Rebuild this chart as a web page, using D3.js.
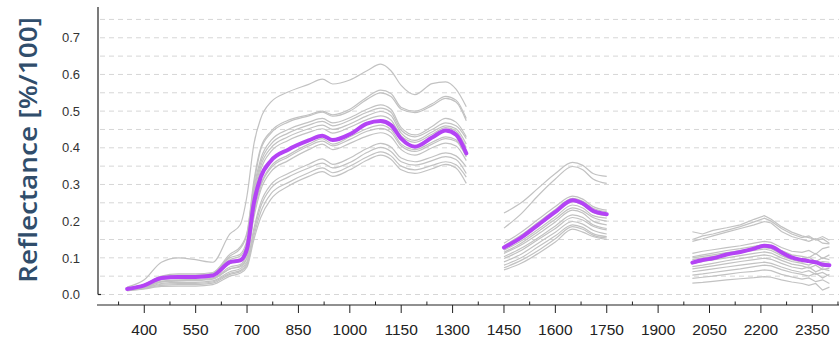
<!DOCTYPE html>
<html>
<head>
<meta charset="utf-8">
<script src="https://cdn.jsdelivr.net/npm/d3@7"></script>
<style>
  body { margin: 0; background: #fff; }
  svg { display: block; font-family: "Liberation Sans", Arial, sans-serif; }
</style>
</head>
<body>
<svg id="chart"></svg>
<script>
// wavelengths (nm) of the three measured ranges (water bands cut out)
const wl1 = [350, 400, 450, 500, 550, 600, 650, 680, 700, 720, 740, 770, 820, 880, 920, 950, 1000, 1050, 1090, 1120, 1150, 1190, 1240, 1280, 1310, 1340];
const wl2 = [1450, 1500, 1550, 1600, 1650, 1680, 1710, 1750];
const wl3 = [2000, 2030, 2060, 2100, 2140, 2180, 2210, 2230, 2260, 2290, 2320, 2340, 2360, 2380, 2400];

// mean spectrum (purple)
const mean1 = [0.015, 0.025, 0.045, 0.048, 0.048, 0.052, 0.088, 0.093, 0.125, 0.25, 0.32, 0.365, 0.395, 0.42, 0.433, 0.421, 0.437, 0.466, 0.473, 0.462, 0.425, 0.403, 0.428, 0.447, 0.436, 0.385];
const mean2 = [0.128, 0.155, 0.19, 0.225, 0.257, 0.248, 0.228, 0.219];
const mean3 = [0.087, 0.094, 0.099, 0.109, 0.116, 0.125, 0.133, 0.131, 0.115, 0.101, 0.094, 0.091, 0.088, 0.082, 0.08];

// single sample spectra (grey), one row per sample
const samples1 = [
  [0.02, 0.04, 0.088, 0.1, 0.095, 0.088, 0.165, 0.19, 0.27, 0.41, 0.48, 0.525, 0.552, 0.573, 0.587, 0.574, 0.585, 0.61, 0.628, 0.61, 0.57, 0.545, 0.575, 0.58, 0.56, 0.512],
  [0.018, 0.028, 0.05, 0.056, 0.056, 0.06, 0.11, 0.13, 0.17, 0.31, 0.4, 0.445, 0.475, 0.49, 0.5, 0.49, 0.505, 0.538, 0.557, 0.548, 0.51, 0.5, 0.52, 0.54, 0.53, 0.48],
  [0.017, 0.027, 0.048, 0.053, 0.053, 0.058, 0.105, 0.125, 0.165, 0.3, 0.395, 0.44, 0.47, 0.487, 0.497, 0.486, 0.5, 0.532, 0.55, 0.54, 0.505, 0.496, 0.515, 0.535, 0.525, 0.474],
  [0.016, 0.026, 0.047, 0.05, 0.05, 0.055, 0.1, 0.11, 0.15, 0.29, 0.37, 0.42, 0.45, 0.47, 0.48, 0.468, 0.482, 0.505, 0.517, 0.505, 0.455, 0.435, 0.458, 0.48, 0.47, 0.43],
  [0.015, 0.025, 0.046, 0.05, 0.05, 0.054, 0.095, 0.105, 0.14, 0.28, 0.36, 0.41, 0.44, 0.462, 0.472, 0.46, 0.475, 0.497, 0.508, 0.497, 0.448, 0.43, 0.45, 0.468, 0.46, 0.425],
  [0.014, 0.022, 0.04, 0.045, 0.046, 0.05, 0.085, 0.095, 0.13, 0.27, 0.35, 0.4, 0.43, 0.452, 0.462, 0.45, 0.465, 0.487, 0.499, 0.488, 0.44, 0.42, 0.443, 0.46, 0.452, 0.41],
  [0.015, 0.024, 0.044, 0.047, 0.047, 0.05, 0.085, 0.09, 0.12, 0.26, 0.34, 0.39, 0.42, 0.442, 0.452, 0.44, 0.456, 0.477, 0.487, 0.476, 0.432, 0.415, 0.437, 0.455, 0.446, 0.4],
  [0.013, 0.02, 0.036, 0.04, 0.041, 0.045, 0.075, 0.082, 0.11, 0.23, 0.3, 0.35, 0.38, 0.41, 0.425, 0.41, 0.43, 0.452, 0.462, 0.45, 0.41, 0.395, 0.415, 0.43, 0.422, 0.38],
  [0.013, 0.02, 0.035, 0.038, 0.039, 0.043, 0.07, 0.078, 0.1, 0.22, 0.295, 0.345, 0.375, 0.405, 0.418, 0.405, 0.423, 0.445, 0.453, 0.442, 0.405, 0.39, 0.41, 0.425, 0.418, 0.375],
  [0.012, 0.019, 0.034, 0.037, 0.038, 0.042, 0.07, 0.075, 0.1, 0.21, 0.285, 0.335, 0.365, 0.395, 0.41, 0.395, 0.412, 0.432, 0.441, 0.43, 0.395, 0.38, 0.4, 0.413, 0.405, 0.365],
  [0.012, 0.018, 0.03, 0.033, 0.033, 0.037, 0.062, 0.07, 0.09, 0.18, 0.25, 0.3, 0.33, 0.355, 0.37, 0.355, 0.372, 0.398, 0.412, 0.402, 0.372, 0.362, 0.375, 0.386, 0.378, 0.348],
  [0.011, 0.017, 0.028, 0.03, 0.03, 0.034, 0.058, 0.065, 0.085, 0.17, 0.24, 0.29, 0.32, 0.345, 0.358, 0.345, 0.36, 0.387, 0.401, 0.39, 0.362, 0.353, 0.365, 0.376, 0.368, 0.33],
  [0.011, 0.016, 0.025, 0.027, 0.027, 0.031, 0.055, 0.062, 0.08, 0.16, 0.225, 0.275, 0.305, 0.332, 0.345, 0.332, 0.35, 0.375, 0.389, 0.378, 0.35, 0.34, 0.352, 0.362, 0.354, 0.32],
  [0.01, 0.015, 0.022, 0.023, 0.023, 0.027, 0.05, 0.058, 0.075, 0.15, 0.21, 0.26, 0.295, 0.322, 0.335, 0.322, 0.34, 0.366, 0.38, 0.369, 0.34, 0.33, 0.343, 0.355, 0.345, 0.303]
];
const samples2 = [
  [0.222, 0.25, 0.29, 0.33, 0.36, 0.352, 0.33, 0.322],
  [0.181, 0.22, 0.27, 0.315, 0.349, 0.34, 0.315, 0.303],
  [0.14, 0.17, 0.205, 0.24, 0.268, 0.26, 0.24, 0.23],
  [0.133, 0.162, 0.197, 0.232, 0.262, 0.254, 0.235, 0.226],
  [0.125, 0.152, 0.187, 0.222, 0.253, 0.244, 0.224, 0.215],
  [0.121, 0.146, 0.178, 0.212, 0.244, 0.236, 0.215, 0.208],
  [0.115, 0.14, 0.172, 0.205, 0.236, 0.228, 0.21, 0.2],
  [0.112, 0.135, 0.165, 0.198, 0.23, 0.222, 0.2, 0.19],
  [0.103, 0.126, 0.155, 0.187, 0.217, 0.21, 0.19, 0.18],
  [0.098, 0.12, 0.15, 0.18, 0.21, 0.203, 0.186, 0.176],
  [0.089, 0.11, 0.14, 0.17, 0.199, 0.192, 0.175, 0.165],
  [0.08, 0.1, 0.13, 0.16, 0.19, 0.183, 0.166, 0.158],
  [0.073, 0.093, 0.12, 0.152, 0.185, 0.178, 0.162, 0.154],
  [0.067, 0.085, 0.112, 0.143, 0.178, 0.17, 0.158, 0.15]
];
const samples3 = [
  [0.171, 0.165, 0.175, 0.182, 0.19, 0.205, 0.215, 0.205, 0.185, 0.17, 0.16, 0.155, 0.15, 0.158, 0.148],
  [0.15, 0.16, 0.165, 0.175, 0.185, 0.198, 0.208, 0.2, 0.18, 0.165, 0.155, 0.16, 0.148, 0.152, 0.14],
  [0.145, 0.152, 0.16, 0.17, 0.18, 0.19, 0.199, 0.195, 0.172, 0.158, 0.15, 0.145, 0.152, 0.14, 0.138],
  [0.112, 0.118, 0.122, 0.128, 0.133, 0.14, 0.145, 0.142, 0.128, 0.118, 0.115, 0.12, 0.11, 0.125, 0.13],
  [0.103, 0.108, 0.113, 0.12, 0.125, 0.131, 0.136, 0.133, 0.12, 0.108, 0.104, 0.1, 0.112, 0.098, 0.108],
  [0.1, 0.104, 0.108, 0.114, 0.12, 0.126, 0.128, 0.125, 0.11, 0.1, 0.095, 0.102, 0.09, 0.1, 0.095],
  [0.095, 0.1, 0.104, 0.11, 0.115, 0.12, 0.124, 0.12, 0.106, 0.095, 0.088, 0.092, 0.085, 0.09, 0.088],
  [0.085, 0.09, 0.094, 0.1, 0.106, 0.112, 0.116, 0.113, 0.1, 0.09, 0.085, 0.08, 0.088, 0.075, 0.082],
  [0.076, 0.08, 0.085, 0.092, 0.098, 0.104, 0.108, 0.105, 0.093, 0.083, 0.078, 0.072, 0.08, 0.068, 0.072],
  [0.07, 0.074, 0.078, 0.084, 0.09, 0.095, 0.099, 0.096, 0.085, 0.075, 0.07, 0.075, 0.062, 0.07, 0.065],
  [0.062, 0.066, 0.07, 0.075, 0.08, 0.085, 0.088, 0.085, 0.075, 0.066, 0.06, 0.065, 0.055, 0.06, 0.05],
  [0.053, 0.056, 0.06, 0.065, 0.07, 0.076, 0.08, 0.078, 0.068, 0.06, 0.055, 0.05, 0.058, 0.045, 0.055],
  [0.044, 0.047, 0.05, 0.055, 0.06, 0.063, 0.067, 0.065, 0.055, 0.048, 0.042, 0.045, 0.035, 0.04, 0.03],
  [0.031, 0.033, 0.036, 0.04, 0.043, 0.046, 0.049, 0.047, 0.04, 0.034, 0.03, 0.025, 0.03, 0.012, 0.02]
];

const xTicks = [400, 550, 700, 850, 1000, 1150, 1300, 1450, 1600, 1750, 1900, 2050, 2200, 2350];
const xMinorTicks = [325, 475, 625, 775, 925, 1075, 1225, 1375, 1525, 1675, 1825, 1975, 2125, 2275, 2425];
const yTicks = [0, 0.1, 0.2, 0.3, 0.4, 0.5, 0.6, 0.7];
const yGrid = [0, 0.05, 0.1, 0.15, 0.2, 0.25, 0.3, 0.35, 0.4, 0.45, 0.5, 0.55, 0.6, 0.65, 0.7, 0.75];

const w = 839, h = 344;
const svg = d3.select('#chart').attr('width', w).attr('height', h);

const x = d3.scaleLinear().domain([262, 2428]).range([97, 839]);
const y = d3.scaleLinear().domain([0, 0.785]).range([294.5, 6.6]);

// dashed grid
svg.append('g')
  .selectAll('line')
  .data(yGrid)
  .join('line')
  .attr('x1', 100).attr('x2', w)
  .attr('y1', d => y(d)).attr('y2', d => y(d))
  .attr('stroke', '#d6d6d6')
  .attr('stroke-dasharray', '5,4');

// helper to turn a wavelength list + values into points
const pts = (wl, vals) => wl.map((d, i) => [d, vals[i]]);

const smooth = d3.line().x(d => x(d[0])).y(d => y(d[1])).curve(d3.curveMonotoneX);
const rough = d3.line().x(d => x(d[0])).y(d => y(d[1]));

const grey = svg.append('g')
  .attr('fill', 'none')
  .attr('stroke', '#c2c2c2')
  .attr('stroke-width', 1.2);

grey.selectAll('.s1').data(samples1).join('path').attr('class', 's1')
  .attr('d', d => smooth(pts(wl1, d)));
grey.selectAll('.s2').data(samples2).join('path').attr('class', 's2')
  .attr('d', d => smooth(pts(wl2, d)));
grey.selectAll('.s3').data(samples3).join('path').attr('class', 's3')
  .attr('d', d => rough(pts(wl3, d)));

// mean line
const meanG = svg.append('g')
  .attr('fill', 'none')
  .attr('stroke', '#b443f5')
  .attr('stroke-width', 4)
  .attr('stroke-linecap', 'round')
  .attr('stroke-linejoin', 'round');

[[wl1, mean1], [wl2, mean2], [wl3, mean3]].forEach(s => {
  meanG.append('path').attr('d', smooth(pts(s[0], s[1])));
});

// y axis
svg.append('line')
  .attr('x1', 98).attr('x2', 98)
  .attr('y1', 7).attr('y2', y(0))
  .attr('stroke', '#222').attr('stroke-width', 1.2);
svg.append('line')
  .attr('x1', 98).attr('x2', 101)
  .attr('y1', y(0)).attr('y2', y(0))
  .attr('stroke', '#222').attr('stroke-width', 1.2);

svg.append('g')
  .selectAll('text')
  .data(yTicks)
  .join('text')
  .attr('x', 80)
  .attr('y', d => y(d))
  .attr('dy', '0.36em')
  .attr('text-anchor', 'end')
  .attr('font-size', 13)
  .attr('fill', '#333')
  .text(d => d3.format('.1f')(d));

// x axis
const xAxis = svg.append('g');
xAxis.append('line')
  .attr('x1', 97).attr('x2', w)
  .attr('y1', 305).attr('y2', 305)
  .attr('stroke', '#222').attr('stroke-width', 1.2);
xAxis.selectAll('.major').data(xTicks).join('line').attr('class', 'major')
  .attr('x1', d => x(d)).attr('x2', d => x(d))
  .attr('y1', 305).attr('y2', 313)
  .attr('stroke', '#222');
xAxis.selectAll('.minor').data(xMinorTicks.filter(d => x(d) > 97 && x(d) < w)).join('line').attr('class', 'minor')
  .attr('x1', d => x(d)).attr('x2', d => x(d))
  .attr('y1', 301.5).attr('y2', 305)
  .attr('stroke', '#222');
xAxis.selectAll('text').data(xTicks).join('text')
  .attr('x', d => x(d))
  .attr('y', 335)
  .attr('text-anchor', 'middle')
  .attr('font-size', 15.5)
  .attr('fill', '#222')
  .text(d => d);

// y title
svg.append('text')
  .attr('transform', 'translate(37,150) rotate(-90)')
  .attr('text-anchor', 'middle')
  .attr('font-family', '"Open Sans", sans-serif')
  .attr('font-weight', 600)
  .attr('font-size', 25)
  .attr('fill', '#304d6b')
  .attr('textLength', 266)
  .attr('lengthAdjust', 'spacingAndGlyphs')
  .text('Reflectance [%/100]');
</script>
</body>
</html>
